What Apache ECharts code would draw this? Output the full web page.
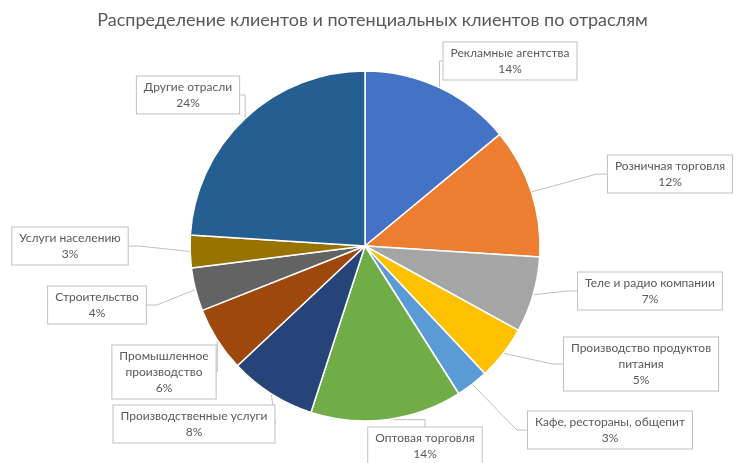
<!DOCTYPE html>
<html><head><meta charset="utf-8">
<script src="https://cdn.jsdelivr.net/npm/echarts@6/dist/echarts.min.js"></script>
<style>html,body{margin:0;padding:0;background:#fff}#c{width:745px;height:463px}</style>
</head><body><div id="c"></div>
<script>
const categories = ['Рекламные агентства','Розничная торговля','Теле и радио компании','Производство продуктов питания','Кафе, рестораны, общепит','Оптовая торговля','Производственные услуги','Промышленное производство','Строительство','Услуги населению','Другие отрасли'];
const labelTexts = ['Рекламные агентства','Розничная торговля','Теле и радио компании','Производство продуктов\nпитания','Кафе, рестораны, общепит','Оптовая торговля','Производственные услуги','Промышленное\nпроизводство','Строительство','Услуги населению','Другие отрасли'];
const values = [14, 12, 7, 5, 3, 14, 8, 6, 4, 3, 24];
const colors = ['#4472C4','#ED7D31','#A5A5A5','#FFC000','#5B9BD5','#70AD47','#264478','#9E480E','#636363','#997300','#255E91'];
const labelCenters = [[510,61],[670,174],[650,291],[641,364],[610,430],[425,446],[194,424],[164,372],[97,305],[70,246],[188,95]];

const chart = echarts.init(document.getElementById('c'));
chart.setOption({
  animation:false,
  title:{text:'Распределение клиентов и потенциальных клиентов по отраслям',left:'center',top:6,
    textStyle:{fontFamily:'Lato',fontSize:18,fontWeight:'normal',color:'#595959'}},
  series:[{
    type:'pie', center:[365,246], radius:175, startAngle:90, clockwise:true,
    data: categories.map((c,i)=>({name:c, value:values[i], itemStyle:{color:colors[i]}})),
    itemStyle:{borderColor:'#fff',borderWidth:1.5},
    label:{show:true, position:'outside',
      formatter:p=>labelTexts[p.dataIndex]+'\n'+p.value+'%',
      fontFamily:'Lato', fontSize:12, color:'#595959', lineHeight:16, align:'center',
      backgroundColor:'#fff', borderColor:'#BFBFBF', borderWidth:1, padding:[3,7,2,7]},
    labelLine:{show:true, length:10, length2:10, lineStyle:{color:'#BFBFBF',width:1}},
    labelLayout:function(p){const c=labelCenters[p.dataIndex];return {x:c[0],y:c[1],align:'center',verticalAlign:'middle'};},
    emphasis:{disabled:true}
  }]
});
</script></body></html>
